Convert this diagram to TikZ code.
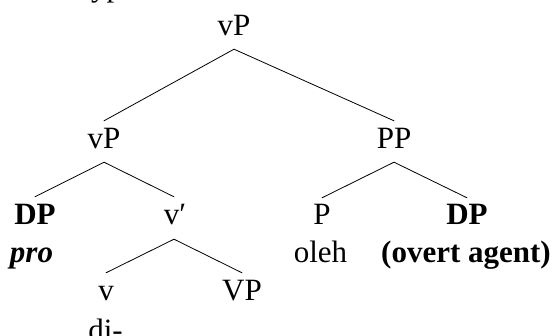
\documentclass[tikz,border=0pt]{standalone}
\usepackage{fontspec}
\setmainfont{Liberation Serif}
\begin{document}
\tikzset{
  lab/.style={inner sep=0pt, anchor=base, text height=21pt, text depth=0pt, font=\fontsize{31}{36}\selectfont},
  branch/.style={line width=0.8pt, line cap=round}
}
\begin{tikzpicture}[x=1pt,y=-1pt]
\useasboundingbox (0,0) rectangle (556,336);
\clip (0,0) rectangle (556,336);
\node[lab] (cap) at (105,-3) {Type};
\node[lab] (top) at (234,36) {vP};
\node[lab] (vPl) at (104,149) {vP};
\node[lab] (PP) at (394,149) {PP};
\node[lab] (DPl) at (35,225) {\textbf{DP}};
\node[lab] (vbar) at (175,225) {v′};
\node[lab] (P) at (322,225) {P};
\node[lab] (DPr) at (467,225) {\textbf{DP}};
\node[lab] (pro) at (31.5,262) {\textbf{\textit{pro}}};
\node[lab] (oleh) at (320.5,263) {oleh};
\node[lab] (agent) at (466,263) {\textbf{(overt agent)}};
\node[lab] (v) at (106,300) {v};
\node[lab] (VP) at (242,300) {VP};
\node[lab] (di) at (105.5,340) {di-};
\draw[branch] ([yshift=-13pt]top.south) -- ([yshift=7pt]vPl.north);
\draw[branch] ([yshift=-13pt]top.south) -- ([yshift=7pt]PP.north);
\draw[branch] ([yshift=-13pt]vPl.south) -- ([yshift=7pt]DPl.north);
\draw[branch] ([yshift=-13pt]vPl.south) -- ([xshift=-1pt,yshift=7pt]vbar.north);
\draw[branch] ([yshift=-13pt]PP.south) -- ([yshift=6pt]P.north);
\draw[branch] ([yshift=-13pt]PP.south) -- ([yshift=6pt]DPr.north);
\draw[branch] ([xshift=-1pt,yshift=-14pt]vbar.south) -- ([yshift=6pt]v.north);
\draw[branch] ([xshift=-1pt,yshift=-14pt]vbar.south) -- ([yshift=6pt]VP.north);
\end{tikzpicture}
\end{document}
